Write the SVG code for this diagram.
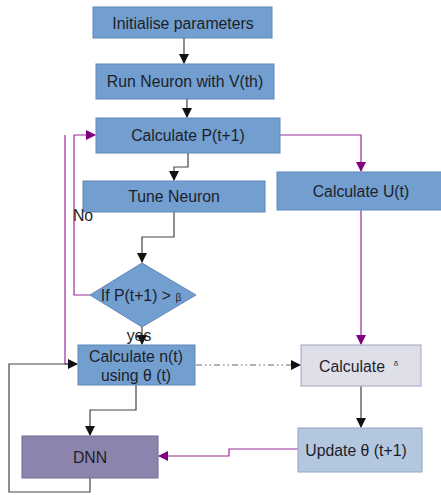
<svg xmlns="http://www.w3.org/2000/svg" width="441" height="495" viewBox="0 0 441 495">
<defs>
<marker id="ab" markerWidth="10" markerHeight="10" refX="9" refY="5" orient="auto" markerUnits="userSpaceOnUse"><path d="M0,0 L10,5 L0,10 Z" fill="#111"/></marker>
<marker id="ap" markerWidth="10" markerHeight="10" refX="9" refY="5" orient="auto" markerUnits="userSpaceOnUse"><path d="M0,0 L10,5 L0,10 Z" fill="#800080"/></marker>
</defs>
<style>
text{font-family:"Liberation Sans",Arial,sans-serif;font-size:15.8px;fill:#1e1e2a;text-anchor:middle}
.sm{font-size:10px}
.xs{font-size:8px}
.n{fill:#729fcf;stroke:#5f88b8;stroke-width:1}
.b{fill:none;stroke:#444;stroke-width:1.2}
.p{fill:none;stroke:#9a2a9a;stroke-width:1.2}
</style>
<rect width="441" height="495" fill="#fff"/>
<g id="connectors">
<path class="b" d="M184,38 V63" marker-end="url(#ab)"/>
<path class="b" d="M187,99 V117" marker-end="url(#ab)"/>
<path class="p" d="M280,135 H361 V171" marker-end="url(#ap)"/>
<path class="b" d="M188,153 V167 H174 V180" marker-end="url(#ab)"/>
<path class="b" d="M174,212 V237 H142 V262" marker-end="url(#ab)"/>
<path class="p" d="M90,295 H74 V135 H95" marker-end="url(#ap)"/>
<path class="p" d="M65,135 V364 H70"/>
<path class="b" d="M142,327 V344" marker-end="url(#ab)"/>
<path class="b" d="M90,478 V492 H9 V364 H77" marker-end="url(#ab)"/>
<path fill="none" stroke="#666" stroke-width="1.2" stroke-dasharray="6,3,1.5,3,1.5,3" d="M196,365 H300" marker-end="url(#ab)"/>
<path class="p" d="M361,210 V344" marker-end="url(#ap)"/>
<path class="b" d="M361,386 V427" marker-end="url(#ab)"/>
<path class="b" d="M136,385 V410 H90 V435" marker-end="url(#ab)"/>
<path class="p" d="M298,449 H229 V456 H159" marker-end="url(#ap)"/>
</g>
<g id="init"><rect class="n" x="93" y="7" width="179" height="31"/><text x="183" y="29">Initialise parameters</text></g>
<g id="run"><rect class="n" x="96" y="64" width="178" height="35"/><text x="185" y="87">Run Neuron with V(th)</text></g>
<g id="calcP"><rect class="n" x="96" y="118" width="184" height="35"/><text x="188" y="141">Calculate P(t+1)</text></g>
<g id="tune"><rect class="n" x="83" y="181" width="182" height="31"/><text x="174" y="202">Tune Neuron</text></g>
<g id="calcU"><rect class="n" x="277" y="172" width="170" height="38"/><text x="361" y="197">Calculate U(t)</text></g>
<g id="decision"><path class="n" d="M142,263 L196,295 L142,327 L90,295 Z"/><text x="141" y="301">If P(t+1) &gt; <tspan class="sm">β</tspan></text></g>
<g id="labelNo"><text x="83" y="221">No</text></g>
<g id="labelYes"><text x="139" y="341">yes</text></g>
<g id="calcN"><rect class="n" x="78" y="345" width="117" height="40"/><text x="136" y="362">Calculate n(t)</text><text x="136" y="381">using θ (t)</text></g>
<g id="calcD"><rect fill="#dfdfe9" stroke="#9ea4bd" x="301" y="345" width="120" height="41"/><text x="352" y="372">Calculate</text><text class="xs" x="396" y="366">δ</text></g>
<g id="update"><rect fill="#b3c7df" stroke="#8ea6c6" x="298" y="428" width="124" height="44"/><text x="356" y="456">Update θ (t+1)</text></g>
<g id="dnn"><rect fill="#8c84ad" stroke="#6f6895" x="22" y="436" width="136" height="42"/><text x="90" y="463">DNN</text></g>
</svg>
